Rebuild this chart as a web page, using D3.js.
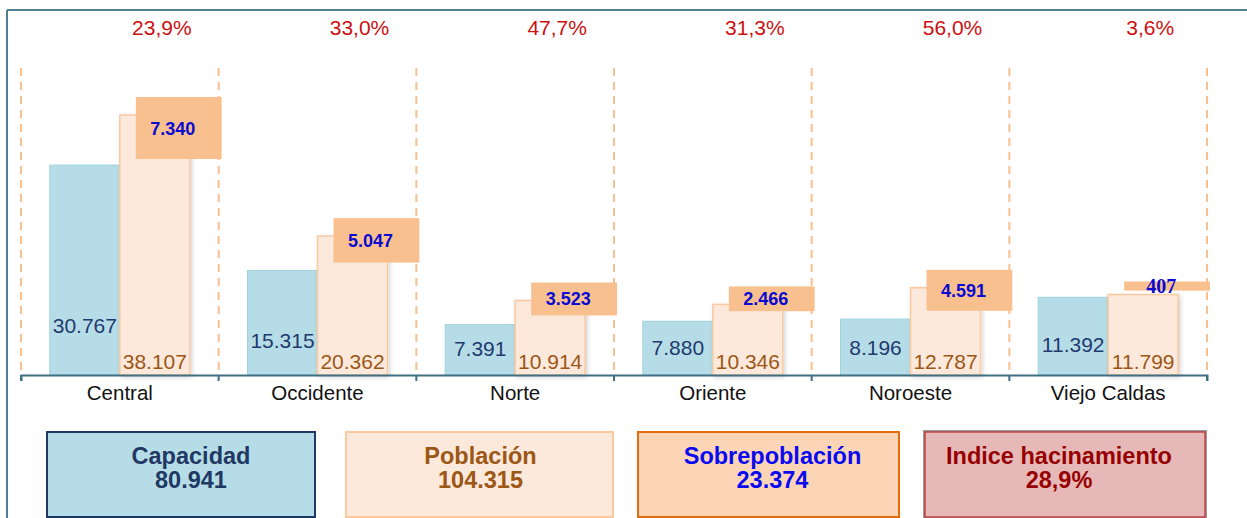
<!DOCTYPE html>
<html>
<head>
<meta charset="utf-8">
<script src="https://cdn.jsdelivr.net/npm/d3@7"></script>
<style>
  html, body { margin: 0; padding: 0; background: #fff; }
  svg { display: block; font-family: "Liberation Sans", Arial, sans-serif; }
</style>
</head>
<body>
<svg id="chart" width="1247" height="518"></svg>
<script>
const categories = ["Central", "Occidente", "Norte", "Oriente", "Noroeste", "Viejo Caldas"];
const capacidad = [30767, 15315, 7391, 7880, 8196, 11392];
const poblacion = [38107, 20362, 10914, 10346, 12787, 11799];
const sobrepoblacion = [7340, 5047, 3523, 2466, 4591, 407];
const hacinamiento = ["23,9%", "33,0%", "47,7%", "31,3%", "56,0%", "3,6%"];
const legendTitles = ["Capacidad", "Población", "Sobrepoblación", "Indice hacinamiento"];
const legendValues = ["80.941", "104.315", "23.374", "28,9%"];

const fmt = d3.formatLocale({decimal: ",", thousands: ".", grouping: [3], currency: ["", ""]}).format(",d");

const svg = d3.select("#chart");
const baseY = 375;

const x = d3.scaleBand().domain(categories).range([21, 1207]).paddingInner(0).paddingOuter(0);
const bw = x.bandwidth();
const sub = d3.scaleBand().domain(["capacidad", "poblacion"]).range([bw / 2 - 70, bw / 2 + 70]);
const y = d3.scaleLinear().domain([0, 45000]).range([baseY, 68]);
const hBox = d3.scaleLinear().domain([0, 7340]).range([6, 62]);

// frame
svg.append("line").attr("x1", 7).attr("x2", 1247).attr("y1", 10).attr("y2", 10)
  .attr("stroke", "#4f8193").attr("stroke-width", 2);
svg.append("line").attr("x1", 7).attr("x2", 7).attr("y1", 10).attr("y2", 518)
  .attr("stroke", "#4f8193").attr("stroke-width", 2);

// shadow filter
const defs = svg.append("defs");
const f = defs.append("filter").attr("id", "sh").attr("x", "-20%").attr("y", "-20%").attr("width", "140%").attr("height", "140%");
f.append("feDropShadow").attr("dx", 1.5).attr("dy", 1.5).attr("stdDeviation", 2)
  .attr("flood-color", "#000").attr("flood-opacity", 0.18);

// dashed dividers
const bounds = categories.map(c => x(c)).concat([x(categories[categories.length - 1]) + bw]);
svg.append("g").selectAll("line").data(bounds).join("line")
  .attr("x1", d => d).attr("x2", d => d)
  .attr("y1", y(45000)).attr("y2", baseY)
  .attr("stroke", "#f9c08f").attr("stroke-width", 2)
  .attr("stroke-dasharray", "8,6");

const data = categories.map((c, i) => ({
  cat: c, cap: capacidad[i], pob: poblacion[i], sob: sobrepoblacion[i], hac: hacinamiento[i], i
}));

const g = svg.append("g");

// capacity bars
g.selectAll("rect.cap").data(data).join("rect").attr("class", "cap")
  .attr("x", d => x(d.cat) + sub("capacidad"))
  .attr("width", sub.bandwidth())
  .attr("y", d => y(d.cap))
  .attr("height", d => baseY - y(d.cap))
  .attr("fill", "#b6dde7").attr("stroke", "#9fd2df").attr("stroke-width", 1);

// population bars
g.selectAll("rect.pob").data(data).join("rect").attr("class", "pob")
  .attr("x", d => x(d.cat) + sub("poblacion"))
  .attr("width", sub.bandwidth())
  .attr("y", d => y(d.pob))
  .attr("height", d => baseY - y(d.pob))
  .attr("fill", "#fde9db").attr("stroke", "#f9c9a2").attr("stroke-width", 1.5)
  .attr("filter", "url(#sh)");

// overpopulation boxes
const boxTop = d => y(d.pob) - (d.sob < 1000 ? 13 : 18);
g.selectAll("rect.sob").data(data).join("rect").attr("class", "sob")
  .attr("x", d => x(d.cat) + sub("poblacion") + 16)
  .attr("width", d => (x(d.cat) + bw + 3) - (x(d.cat) + sub("poblacion") + 16))
  .attr("y", boxTop)
  .attr("height", d => hBox(d.sob))
  .attr("fill", "#f9c08f");

g.selectAll("text.sob").data(data).join("text").attr("class", "sob")
  .attr("x", d => x(d.cat) + sub("poblacion") + 16 + 37)
  .attr("y", d => boxTop(d) + hBox(d.sob) / 2)
  .attr("dy", "0.36em")
  .attr("text-anchor", "middle")
  .attr("font-weight", "bold")
  .attr("font-size", d => d.sob < 1000 ? 20 : 18)
  .attr("font-family", d => d.sob < 1000 ? "'Liberation Serif', 'Times New Roman', serif" : "'Liberation Sans', Arial, sans-serif")
  .attr("fill", "#0a0ad0")
  .text(d => fmt(d.sob));

// value labels
g.selectAll("text.cap").data(data).join("text").attr("class", "cap")
  .attr("x", d => x(d.cat) + sub("capacidad") + sub.bandwidth() / 2)
  .attr("y", d => baseY - (20 + 0.14 * (baseY - y(d.cap))))
  .attr("dy", "0.36em")
  .attr("text-anchor", "middle")
  .attr("font-size", 21)
  .attr("fill", "#1f3a6e")
  .text(d => fmt(d.cap));

g.selectAll("text.pob").data(data).join("text").attr("class", "pob")
  .attr("x", d => x(d.cat) + sub("poblacion") + sub.bandwidth() / 2)
  .attr("y", baseY - 14)
  .attr("dy", "0.36em")
  .attr("text-anchor", "middle")
  .attr("font-size", 21)
  .attr("fill", "#9c5716")
  .text(d => fmt(d.pob));

// percent labels
g.selectAll("text.hac").data(data).join("text").attr("class", "hac")
  .attr("x", d => x(d.cat) + bw / 2 + 42)
  .attr("y", 35)
  .attr("text-anchor", "middle")
  .attr("font-size", 21)
  .attr("fill", "#cc1010")
  .text(d => d.hac);

// axis
const axis = svg.append("g").attr("transform", `translate(0,${baseY})`)
  .call(d3.axisBottom(x).tickSize(0).tickSizeOuter(6).tickPadding(10));
axis.select(".domain").attr("stroke", "#3f6f80").attr("stroke-width", 2);
axis.selectAll(".tick text").attr("font-size", 20.5).attr("fill", "#111")
  .attr("font-family", "'Liberation Sans', Arial, sans-serif");
axis.append("g").selectAll("line").data(bounds).join("line")
  .attr("x1", d => d).attr("x2", d => d).attr("y1", 0).attr("y2", 6)
  .attr("stroke", "#3f6f80").attr("stroke-width", 2);

// legend
const legendLayout = [
  {x: 47, w: 268, fill: "#b6dde7", stroke: "#1f3864", text: "#1f3864", dx: 10},
  {x: 346, w: 267, fill: "#fde9db", stroke: "#fbc8a0", text: "#9c5716", dx: 1},
  {x: 638, w: 261, fill: "#fbd5b5", stroke: "#e46c0a", text: "#0a0af0", dx: 4},
  {x: 925, w: 280, fill: "#e6b9b8", stroke: "#c0282d", text: "#960000", dx: -6}
];
const leg = svg.append("g");
legendLayout.forEach((L, i) => {
  if (i === 3) {
    leg.append("rect").attr("x", L.x - 1).attr("y", 431).attr("width", L.w + 2).attr("height", 87)
      .attr("fill", "none").attr("stroke", "#9a9a9a").attr("stroke-width", 2);
  }
  leg.append("rect").attr("x", L.x).attr("y", 432).attr("width", L.w).attr("height", 85)
    .attr("fill", L.fill).attr("stroke", L.stroke).attr("stroke-width", i === 3 ? 1.2 : 2);
  leg.append("text").attr("x", L.x + L.w / 2 + L.dx).attr("y", 464)
    .attr("text-anchor", "middle").attr("font-weight", "bold").attr("font-size", 23.5)
    .attr("fill", L.text).text(legendTitles[i]);
  leg.append("text").attr("x", L.x + L.w / 2 + L.dx).attr("y", 488)
    .attr("text-anchor", "middle").attr("font-weight", "bold").attr("font-size", 23.5)
    .attr("fill", L.text).text(legendValues[i]);
});
</script>
</body>
</html>
